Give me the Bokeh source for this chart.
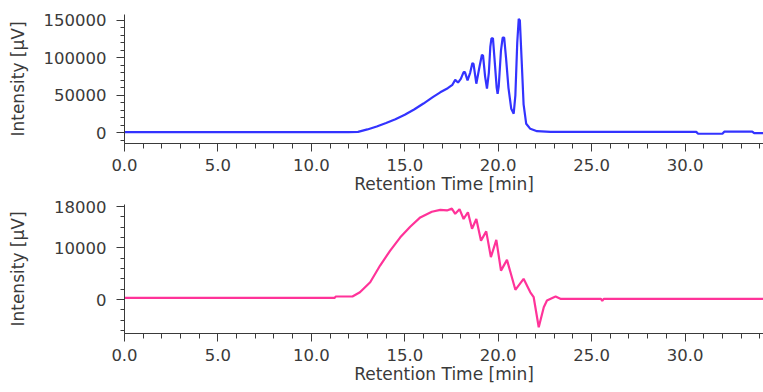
from bokeh.plotting import figure
from bokeh.layouts import column
from bokeh.models import FixedTicker, PrintfTickFormatter, Range1d
from bokeh.embed import file_html
from bokeh.resources import INLINE

# ---- data ----
t_top = [0.0, 12.0, 12.5, 13.0, 13.5, 14.0, 14.5, 15.0, 15.5, 16.0, 16.5, 16.9, 17.3,
         17.55, 17.70, 17.85, 18.0, 18.15, 18.22, 18.36, 18.5, 18.62, 18.68, 18.83, 19.0,
         19.13, 19.19, 19.30, 19.40, 19.50, 19.58, 19.64, 19.72, 19.80, 19.92, 19.97,
         20.03, 20.15, 20.24, 20.32, 20.42, 20.55, 20.70, 20.83, 20.92, 21.02, 21.10,
         21.16, 21.25, 21.36, 21.5, 21.72, 22.08, 22.8, 30.6, 30.7, 32.0, 32.1,
         33.6, 33.7, 34.2]
i_top = [1000, 1000, 1300, 4500, 8500, 13000, 18000, 24000, 31000, 39000, 47500, 54000, 59500,
         64000, 70500, 67000, 72000, 81000, 81000, 70000, 80000, 93000, 92000, 65500, 88000,
         104000, 103000, 75000, 59000, 80000, 115000, 126000, 126000, 100000, 60000, 52000,
         62000, 110000, 127000, 127000, 100000, 60000, 32000, 25500, 50000, 120000, 152000,
         150000, 100000, 38000, 12000, 5300, 2100, 1200, 1200, -1300, -1300, 1500,
         1500, -500, -500]

t_bot = [0.0, 11.25, 11.3, 12.2, 12.6, 13.15, 13.68, 14.22, 14.76, 15.29, 15.83, 16.45,
         16.90, 17.26, 17.52, 17.70, 17.93, 18.15, 18.38, 18.60, 18.83, 19.08, 19.36,
         19.61, 19.90, 20.15, 20.47, 20.92, 21.36, 21.72, 21.9, 22.17, 22.44, 22.61,
         23.07, 23.33, 25.5, 25.57, 25.65, 34.2]
i_bot = [330, 330, 580, 600, 1400, 3350, 6580, 9480, 12050, 14100, 15900, 17000,
         17350, 17250, 17600, 16600, 17500, 15600, 16900, 13700, 15600, 11400, 13200,
         8200, 11550, 5600, 7680, 1880, 4000, 1400, 450, -5360, -1500, -190,
         580, 140, 140, -250, 140, 140]

x_major = [0, 5, 10, 15, 20, 25, 30]
x_minor = list(range(0, 35))
top_major = [0, 50000, 100000, 150000]
top_minor = list(range(-10000, 160000, 10000))
bot_major = [0, 10000, 18000]
bot_minor = list(range(-6000, 20000, 2000))

FONT = "DejaVu Sans"
TXT = "#3a3a3a"
AX = "#3a3a3a"


def make(ts, vs, color, yr, ymaj, ymin, title_standoff, height, top_border):
    p = figure(width=763, height=height, output_backend="svg", toolbar_location=None,
               x_range=Range1d(0, 34.2), y_range=Range1d(*yr),
               min_border_left=124, min_border_right=0, min_border_top=top_border,
               min_border_bottom=55)
    p.line(ts, vs, line_color=color, line_width=2.2)
    p.outline_line_color = None
    p.xgrid.visible = False
    p.ygrid.visible = False
    p.background_fill_color = "white"
    p.border_fill_color = "white"

    xa = p.xaxis[0]
    xa.ticker = FixedTicker(ticks=x_major, minor_ticks=x_minor)
    xa.formatter = PrintfTickFormatter(format="%.1f")
    xa.axis_label = "Retention Time [min]"
    xa.major_label_standoff = 7
    xa.axis_label_standoff = 0
    xa.minor_tick_out = 5

    ya = p.yaxis[0]
    ya.ticker = FixedTicker(ticks=ymaj, minor_ticks=ymin)
    ya.formatter = PrintfTickFormatter(format="%d")
    ya.axis_label = "Intensity [\u00b5V]"
    ya.major_label_standoff = 10
    ya.axis_label_standoff = title_standoff
    ya.minor_tick_out = 4

    for a in (xa, ya):
        a.major_tick_in = 0
        a.minor_tick_in = 0
        a.major_tick_out = 8
        a.axis_line_color = AX
        a.major_tick_line_color = AX
        a.minor_tick_line_color = AX
        a.major_label_text_font = FONT
        a.major_label_text_font_size = "16.5px"
        a.major_label_text_color = TXT
        a.axis_label_text_font = FONT
        a.axis_label_text_font_size = "17px"
        a.axis_label_text_font_style = "normal"
        a.axis_label_text_color = TXT
    return p


p1 = make(t_top, i_top, "#3333ff", (-14270, 157730), top_major, top_minor, 13, 198, 14)
p2 = make(t_bot, i_bot, "#ff3399", (-6580, 18400), bot_major, bot_minor, 23, 190, 6)

layout = column(p1, p2, spacing=0)
open("out.html", "w").write(file_html(layout, INLINE))
